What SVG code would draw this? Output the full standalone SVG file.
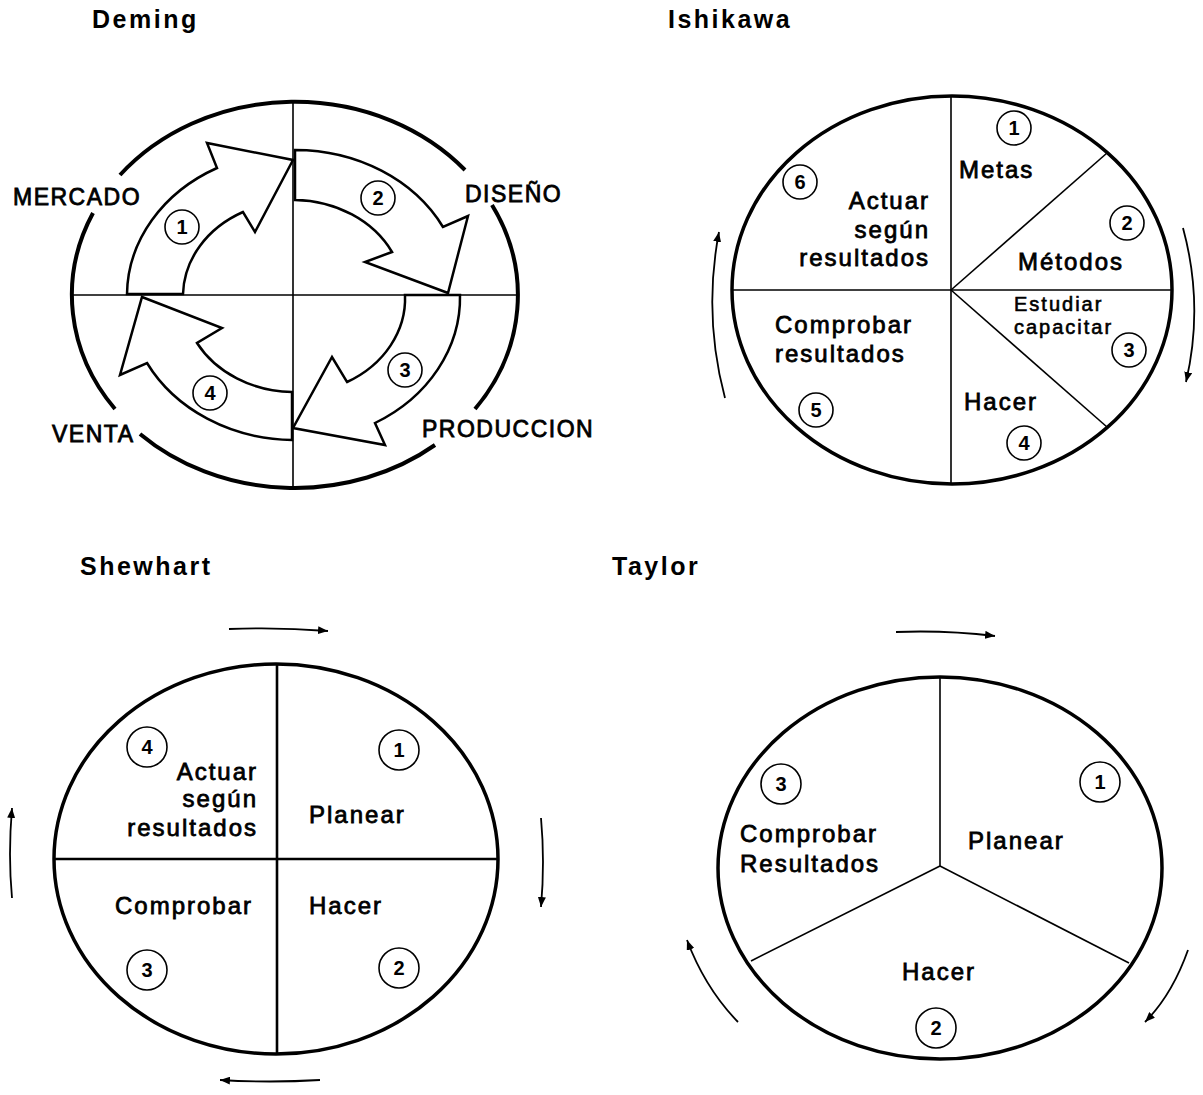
<svg xmlns="http://www.w3.org/2000/svg" width="1203" height="1095" viewBox="0 0 1203 1095">
<defs>
<style>
text{font-family:"Liberation Sans",Arial,Helvetica,sans-serif;fill:#000}
.title{font-weight:bold;font-size:25px;letter-spacing:2.5px}
.lbl{font-size:24px;letter-spacing:2px;stroke:#000;stroke-width:0.8}
.lbs{font-size:20px;letter-spacing:2px;stroke:#000;stroke-width:0.6}
.dl{font-size:23px;letter-spacing:1.5px;stroke:#000;stroke-width:0.8}
.end{text-anchor:end}
.ring{fill:none;stroke:#000;stroke-width:4}
.disk{fill:#fff;stroke:#000;stroke-width:3.5}
.axis{fill:none;stroke:#000;stroke-width:1.6}
.axis2{fill:none;stroke:#000;stroke-width:2.6}
.blk{fill:#fff;stroke:#000;stroke-width:2.5;stroke-linejoin:miter}
.num circle{fill:none;stroke:#000;stroke-width:1.6}
.num text{font-size:20px;font-weight:bold;text-anchor:middle}
.flow{fill:none;stroke:#000;stroke-width:1.8;marker-end:url(#ah)}
</style>
<marker id="ah" markerUnits="userSpaceOnUse" markerWidth="12" markerHeight="8" refX="10" refY="4" orient="auto">
<path d="M0,0 L10,4 L0,8 Z" fill="#000"/>
</marker>
</defs>
<rect width="1203" height="1095" fill="#fff"/>

<!-- ================= DEMING ================= -->
<g id="deming">
<text class="title" x="92" y="28">Deming</text>
<g id="deming-ring">
<path class="ring" d="M120,175 A223 193 0 0 1 465,170"/>
<path class="ring" d="M492,205 A223 193 0 0 1 475,409"/>
<path class="ring" d="M435,445 A223 193 0 0 1 140,434"/>
<path class="ring" d="M115,409 A223 193 0 0 1 93,213"/>
</g>
<g id="deming-connectors">
<path id="arrow1" class="blk" d="M127,294 A167 144 0 0 1 217,168 L207,143 L293,160 L255,232 L243,212 A111 95 0 0 0 183,294 Z"/>
<path id="arrow2" class="blk" d="M295,150 A167 144 0 0 1 443,227 L468,216 L448,293 L365,262 L392,252 A111 95 0 0 0 295,200 Z"/>
<path id="arrow3" class="blk" d="M460,295 A167 144 0 0 1 375,423 L385,445 L293,428 L332,357 L347,382 A111 95 0 0 0 405,295 Z"/>
<path id="arrow4" class="blk" d="M292,440 A167 144 0 0 1 147,363 L120,375 L142,297 L222,328 L197,343 A111 95 0 0 0 292,392 Z"/>
</g>
<line class="axis" x1="293" y1="100" x2="293" y2="490"/>
<line class="axis" x1="72" y1="295" x2="518" y2="295" stroke-width="1.3"/>
<g id="d-mercado"><text class="dl" x="13" y="205">MERCADO</text><g class="num"><circle cx="182" cy="227" r="17"/><text x="182" y="234">1</text></g></g>
<g id="d-diseno"><text class="dl" x="465" y="202">DISEÑO</text><g class="num"><circle cx="378" cy="198" r="17"/><text x="378" y="205">2</text></g></g>
<g id="d-produccion"><text class="dl" x="422" y="437">PRODUCCION</text><g class="num"><circle cx="405" cy="370" r="17"/><text x="405" y="377">3</text></g></g>
<g id="d-venta"><text class="dl" x="52" y="442">VENTA</text><g class="num"><circle cx="210" cy="393" r="17"/><text x="210" y="400">4</text></g></g>
</g>

<!-- ================= ISHIKAWA ================= -->
<g id="ishikawa">
<text class="title" x="668" y="28">Ishikawa</text>
<ellipse class="disk" cx="952" cy="290" rx="220" ry="194"/>
<g id="ishikawa-dividers">
<line class="axis" x1="951" y1="96" x2="951" y2="484"/>
<line class="axis" x1="732" y1="290" x2="1172" y2="290"/>
<line class="axis" x1="951" y1="290" x2="1107" y2="153"/>
<line class="axis" x1="951" y1="290" x2="1107" y2="427"/>
</g>
<g id="i-metas"><text class="lbl" x="959" y="178">Metas</text><g class="num"><circle cx="1014" cy="128" r="17"/><text x="1014" y="135">1</text></g></g>
<g id="i-metodos"><text class="lbl" x="1018" y="270">Métodos</text><g class="num"><circle cx="1127" cy="223" r="17"/><text x="1127" y="230">2</text></g></g>
<g id="i-estudiar"><text class="lbs" x="1014" y="311">Estudiar</text><text class="lbs" x="1014" y="334">capacitar</text><g class="num"><circle cx="1129" cy="350" r="17"/><text x="1129" y="357">3</text></g></g>
<g id="i-hacer"><text class="lbl" x="964" y="410">Hacer</text><g class="num"><circle cx="1024" cy="443" r="17"/><text x="1024" y="450">4</text></g></g>
<g id="i-comprobar"><text class="lbl" x="775" y="333">Comprobar</text><text class="lbl" x="775" y="362">resultados</text><g class="num"><circle cx="816" cy="410" r="17"/><text x="816" y="417">5</text></g></g>
<g id="i-actuar"><text class="lbl end" x="930" y="209">Actuar</text><text class="lbl end" x="930" y="238">según</text><text class="lbl end" x="930" y="266">resultados</text><g class="num"><circle cx="800" cy="182" r="17"/><text x="800" y="189">6</text></g></g>
<g id="ishikawa-connectors">
<path class="flow" d="M725,398 Q703,315 719,232"/>
<path class="flow" d="M1183,228 Q1204,305 1186,382"/>
</g>
</g>

<!-- ================= SHEWHART ================= -->
<g id="shewhart">
<text class="title" x="80" y="575">Shewhart</text>
<ellipse class="disk" cx="276" cy="859" rx="222" ry="195"/>
<g id="shewhart-dividers">
<line class="axis2" x1="277" y1="665" x2="277" y2="1054"/>
<line class="axis2" x1="54" y1="859" x2="498" y2="859"/>
</g>
<g id="s-planear"><text class="lbl" x="309" y="823">Planear</text><g class="num"><circle cx="399" cy="750" r="20"/><text x="399" y="757">1</text></g></g>
<g id="s-hacer"><text class="lbl" x="309" y="914">Hacer</text><g class="num"><circle cx="399" cy="968" r="20"/><text x="399" y="975">2</text></g></g>
<g id="s-comprobar"><text class="lbl" x="115" y="914">Comprobar</text><g class="num"><circle cx="147" cy="970" r="20"/><text x="147" y="977">3</text></g></g>
<g id="s-actuar"><text class="lbl end" x="258" y="780">Actuar</text><text class="lbl end" x="258" y="807">según</text><text class="lbl end" x="258" y="836">resultados</text><g class="num"><circle cx="147" cy="747" r="20"/><text x="147" y="754">4</text></g></g>
<g id="shewhart-connectors">
<path class="flow" d="M229,629 Q278,627 328,631"/>
<path class="flow" d="M541,818 Q545,862 541,907"/>
<path class="flow" d="M320,1080 Q270,1083 220,1080"/>
<path class="flow" d="M12,898 Q8,855 12,808"/>
</g>
</g>

<!-- ================= TAYLOR ================= -->
<g id="taylor">
<text class="title" x="612" y="575">Taylor</text>
<ellipse class="disk" cx="940" cy="868" rx="222" ry="191"/>
<g id="taylor-dividers">
<line class="axis" x1="940" y1="677" x2="940" y2="866" stroke-width="2"/>
<line class="axis" x1="940" y1="866" x2="751" y2="961" stroke-width="2"/>
<line class="axis" x1="940" y1="866" x2="1129" y2="963" stroke-width="2"/>
</g>
<g id="t-planear"><text class="lbl" x="968" y="849">Planear</text><g class="num"><circle cx="1100" cy="782" r="20"/><text x="1100" y="789">1</text></g></g>
<g id="t-hacer"><text class="lbl" x="902" y="980">Hacer</text><g class="num"><circle cx="936" cy="1028" r="20"/><text x="936" y="1035">2</text></g></g>
<g id="t-comprobar"><text class="lbl" x="740" y="842">Comprobar</text><text class="lbl" x="740" y="872">Resultados</text><g class="num"><circle cx="781" cy="784" r="20"/><text x="781" y="791">3</text></g></g>
<g id="taylor-connectors">
<path class="flow" d="M896,632 Q945,630 995,636"/>
<path class="flow" d="M1188,950 Q1172,995 1145,1022"/>
<path class="flow" d="M738,1022 Q705,988 687,940"/>
</g>
</g>
</svg>
